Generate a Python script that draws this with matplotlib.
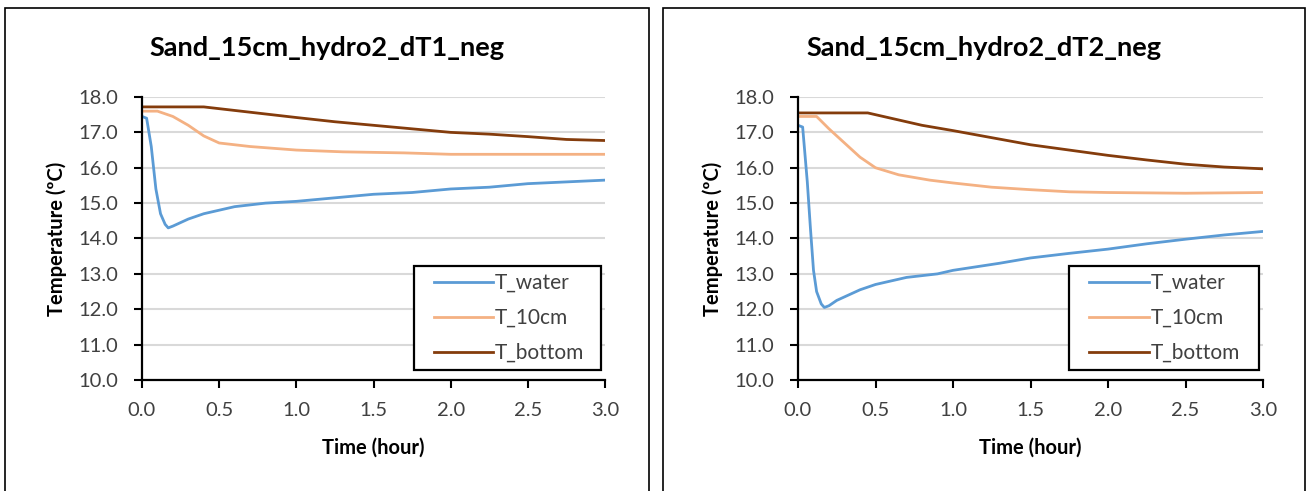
import numpy as np
import matplotlib
matplotlib.use("Agg")
import matplotlib.pyplot as plt
from matplotlib.patches import Rectangle

plt.rcParams['font.family'] = ['Lato', 'DejaVu Sans']

# time in hours
t_water1 = [0.0, 0.03, 0.06, 0.09, 0.12, 0.15, 0.17, 0.2, 0.25, 0.3, 0.4, 0.5, 0.6, 0.8, 1.0,
            1.25, 1.5, 1.75, 2.0, 2.25, 2.5, 2.75, 3.0]
water1 = [17.45, 17.4, 16.6, 15.4, 14.7, 14.4, 14.3, 14.35, 14.45, 14.55, 14.7, 14.8, 14.9, 15.0, 15.05,
          15.15, 15.25, 15.3, 15.4, 15.45, 15.55, 15.6, 15.65]
t_10cm1 = [0.0, 0.1, 0.2, 0.3, 0.4, 0.5, 0.7, 1.0, 1.3, 1.7, 2.0, 2.5, 3.0]
cm10_1 = [17.6, 17.6, 17.45, 17.2, 16.9, 16.7, 16.6, 16.5, 16.45, 16.42, 16.38, 16.38, 16.38]
t_bot1 = [0.0, 0.4, 0.6, 0.8, 1.0, 1.25, 1.5, 1.75, 2.0, 2.25, 2.5, 2.75, 3.0]
bot1 = [17.72, 17.72, 17.62, 17.52, 17.42, 17.3, 17.2, 17.1, 17.0, 16.95, 16.88, 16.8, 16.77]

t_water2 = [0.0, 0.03, 0.06, 0.08, 0.1, 0.12, 0.15, 0.17, 0.2, 0.25, 0.3, 0.4, 0.5, 0.7, 0.9, 1.0,
            1.3, 1.5, 1.75, 2.0, 2.25, 2.5, 2.75, 3.0]
water2 = [17.2, 17.15, 15.6, 14.3, 13.1, 12.5, 12.15, 12.05, 12.1, 12.25, 12.35, 12.55, 12.7, 12.9, 13.0, 13.1,
          13.3, 13.45, 13.58, 13.7, 13.85, 13.98, 14.1, 14.2]
t_10cm2 = [0.0, 0.12, 0.2, 0.3, 0.4, 0.5, 0.65, 0.85, 1.0, 1.25, 1.5, 1.75, 2.0, 2.5, 3.0]
cm10_2 = [17.45, 17.45, 17.1, 16.7, 16.3, 16.0, 15.8, 15.65, 15.57, 15.45, 15.38, 15.32, 15.3, 15.28, 15.3]
t_bot2 = [0.0, 0.45, 0.6, 0.8, 1.0, 1.25, 1.5, 1.75, 2.0, 2.25, 2.5, 2.75, 3.0]
bot2 = [17.55, 17.55, 17.4, 17.2, 17.05, 16.85, 16.65, 16.5, 16.35, 16.22, 16.1, 16.02, 15.97]

titles = ['Sand_15cm_hydro2_dT1_neg', 'Sand_15cm_hydro2_dT2_neg']
labels = ['T_water', 'T_10cm', 'T_bottom']
colors = ['#5B9BD5', '#F4B183', '#843C0C']

W, H = 1307, 491
fig = plt.figure(figsize=(W / 100, H / 100), dpi=100)

def px_axes(x0, x1, y0, y1):
    return fig.add_axes([x0 / W, 1 - y1 / H, (x1 - x0) / W, (y1 - y0) / H])

# chart frames, title centred on each frame
frames = [(5, 649), (663, 1305)]
for (fx0, fx1), title in zip(frames, titles):
    fig.patches.append(Rectangle((fx0 / W, -0.1), (fx1 - fx0) / W, 1.1 - 8 / H,
                                 transform=fig.transFigure, fill=False,
                                 edgecolor='black', lw=1.2))
    fig.text((fx0 + fx1) / 2 / W, 1 - 48 / H, title, fontsize=19.5, fontweight='bold',
             ha='center', va='center')

panels = [
    (px_axes(142, 605, 97, 380), [(t_water1, water1), (t_10cm1, cm10_1), (t_bot1, bot1)], 0.587),
    (px_axes(798, 1263, 97, 380), [(t_water2, water2), (t_10cm2, cm10_2), (t_bot2, bot2)], 0.583),
]

for ax, series, lx in panels:
    for (tx, ty), lab, c in zip(series, labels, colors):
        ax.plot(tx, ty, color=c, lw=2, label=lab)
    ax.set_xlim(0, 3)
    ax.set_ylim(10, 18)
    ax.set_xticks(np.arange(0, 3.01, 0.5))
    ax.set_yticks(np.arange(10, 18.01, 1))
    ax.xaxis.set_major_formatter(matplotlib.ticker.FormatStrFormatter('%.1f'))
    ax.yaxis.set_major_formatter(matplotlib.ticker.FormatStrFormatter('%.1f'))
    ax.grid(axis='y', color='#D9D9D9', lw=1.5)
    ax.set_axisbelow(True)
    for s in ['top', 'right']:
        ax.spines[s].set_visible(False)
    for s in ['left', 'bottom']:
        ax.spines[s].set_linewidth(1.6)
    ax.tick_params(direction='out', length=6, width=1.5, labelsize=14.5, colors='black',
                   labelcolor='#404040')
    ax.tick_params(axis='x', pad=10)
    ax.tick_params(axis='y', pad=11)
    ax.set_xlabel('Time (hour)', fontsize=14.5, fontweight='bold', labelpad=13)
    ax.set_ylabel('Temperature (ºC)', fontsize=14.5, fontweight='bold', labelpad=8)

    # legend box drawn separately (Excel style, extra space on the right)
    ax.add_patch(Rectangle((lx, 0.035), 0.992 - lx, 0.368, transform=ax.transAxes,
                           fill=True, facecolor='white', edgecolor='black', lw=1.6,
                           zorder=4))
    leg = ax.legend(loc='center left', bbox_to_anchor=(lx + 20 / 463, 0.219), fontsize=15,
                    frameon=False, handlelength=2.85, borderpad=0, labelspacing=0.72,
                    handletextpad=0.1, borderaxespad=0)
    leg.set_zorder(5)
    for txt in leg.get_texts():
        txt.set_color('#404040')

fig.savefig('out.png', dpi=100)
